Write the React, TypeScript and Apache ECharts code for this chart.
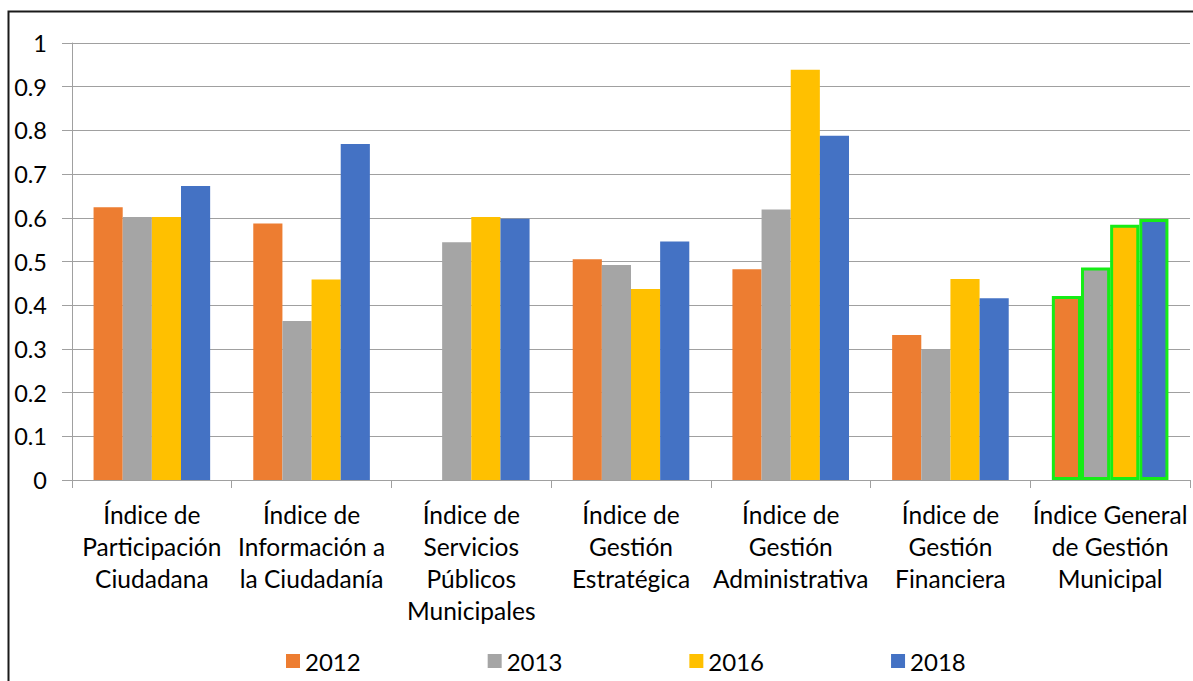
import React, { useEffect, useRef } from "react";
import * as echarts from "echarts";

const categories = [
  "Índice de\nParticipación\nCiudadana",
  "Índice de\nInformación a\nla Ciudadanía",
  "Índice de\nServicios\nPúblicos\nMunicipales",
  "Índice de\nGestión\nEstratégica",
  "Índice de\nGestión\nAdministrativa",
  "Índice de\nGestión\nFinanciera",
  "Índice General\nde Gestión\nMunicipal",
];
const seriesNames = ["2012", "2013", "2016", "2018"];
const values2012: (number | string)[] = [0.624, 0.587, "-", 0.505, 0.482, 0.332, 0.421];
const values2013 = [0.602, 0.364, 0.544, 0.492, 0.619, 0.299, 0.486];
const values2016 = [0.602, 0.459, 0.602, 0.437, 0.939, 0.46, 0.584];
const values2018 = [0.673, 0.769, 0.598, 0.546, 0.788, 0.416, 0.597];
const colors = ["#ED7D31", "#A5A5A5", "#FFC000", "#4472C4"];
const highlightIndex = 6;

const FONT = "Lato";

export default function App() {
  const ref = useRef<HTMLDivElement>(null);
  useEffect(() => {
    if (!ref.current) return;
    const chart = echarts.init(ref.current, null, { renderer: "svg" });
    const all = [values2012, values2013, values2016, values2018];
    const series = all.map((vals, si) => ({
      name: seriesNames[si],
      type: "bar",
      barGap: "0%",
      barCategoryGap: "27%",
      itemStyle: { color: colors[si] },
      data: vals.map((v, i) =>
        i === highlightIndex
          ? { value: v, itemStyle: { color: colors[si], borderColor: "#16ec16", borderWidth: 3 } }
          : v
      ),
    }));
    chart.setOption({
      animation: false,
      backgroundColor: "#ffffff",
      textStyle: { fontFamily: FONT },
      graphic: [
        {
          type: "rect",
          shape: { x: 8.5, y: 11.5, width: 1400, height: 900 },
          style: { fill: "none", stroke: "#1a1a1a", lineWidth: 2 },
          silent: true,
        },
      ],
      grid: { left: 72, right: 3, top: 43, bottom: 201 },
      legend: {
        data: seriesNames,
        left: 286,
        top: 648,
        padding: 0,
        itemWidth: 14,
        itemHeight: 14,
        itemGap: 127,
        icon: "rect",
        textStyle: { fontFamily: FONT, fontSize: 24, color: "#000", width: 53, lineHeight: 26 },
      },
      xAxis: {
        type: "category",
        data: categories,
        axisLine: { show: true, lineStyle: { color: "#a0a0a0", width: 1 } },
        axisTick: { show: true, length: 8, lineStyle: { color: "#a0a0a0" } },
        axisLabel: {
          interval: 0,
          fontFamily: FONT,
          fontSize: 24.5,
          lineHeight: 32,
          color: "#000",
          margin: 18,
        },
      },
      yAxis: {
        type: "value",
        min: 0,
        max: 1,
        interval: 0.1,
        axisLine: { show: true, lineStyle: { color: "#a0a0a0", width: 1 } },
        axisTick: { show: true, inside: false, length: 10, lineStyle: { color: "#a0a0a0" } },
        splitLine: { show: true, lineStyle: { color: "#a0a0a0", width: 1 } },
        axisLabel: { fontFamily: FONT, fontSize: 23.5, color: "#000", margin: 25 },
      },
      series,
    });
    return () => chart.dispose();
  }, []);
  return (
    <div
      ref={ref}
      style={{ position: "absolute", left: 0, top: 0, width: 1193, height: 681 }}
    />
  );
}
